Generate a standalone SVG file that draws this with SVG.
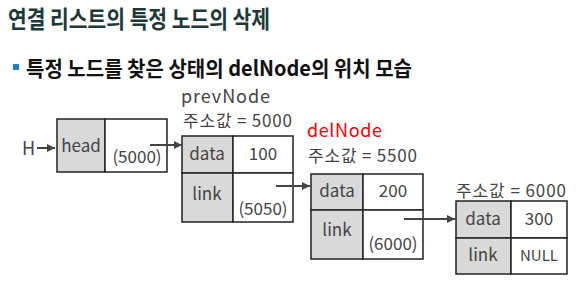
<svg xmlns="http://www.w3.org/2000/svg" width="578" height="284" viewBox="0 0 578 284">
<defs>
<style>
.t{font-family:"Noto Sans CJK KR","Noto Sans",sans-serif;}
.title{font-size:24px;font-weight:bold;fill:#1e3838;}
.sub{font-size:21px;font-weight:bold;fill:#111;}
.lbl{font-size:17px;fill:#444;}
.nm{font-size:18px;}
.red{fill:#ff0000;}
.g{fill:#d9d9d9;stroke:#222;stroke-width:1.5;}
.w{fill:#fff;stroke:#222;stroke-width:1.5;}
.c{stroke:#444;stroke-width:2;fill:none;marker-end:url(#ah);}
</style>
<marker id="ah" viewBox="0 0 10 10" refX="10" refY="5" markerWidth="4" markerHeight="4" orient="auto" markerUnits="strokeWidth">
<path d="M0,0 L10,5 L0,10 z" fill="#444"/>
</marker>
</defs>
<rect width="578" height="284" fill="#fff"/>
<text class="t title" x="8" y="28" textLength="262" lengthAdjust="spacingAndGlyphs">연결 리스트의 특정 노드의 삭제</text>
<rect x="13" y="64" width="6" height="6" fill="#1e7fd0"/>
<text class="t sub" x="26" y="76" textLength="386" lengthAdjust="spacingAndGlyphs">특정 노드를 찾은 상태의 delNode의 위치 모습</text>

<g id="H">
<text class="t lbl" x="22" y="155" style="font-size:18px">H</text>
</g>
<g id="head">
<rect class="g" x="57" y="119" width="48" height="53"/>
<rect class="w" x="105" y="119" width="62" height="53"/>
<text class="t lbl" x="81" y="152" text-anchor="middle">head</text>
<text class="t lbl" x="137" y="163" text-anchor="middle">(5000)</text>
</g>
<g id="prevNode">
<text class="t lbl nm" x="181" y="103" textLength="89">prevNode</text>
<text class="t lbl" x="183" y="127" textLength="109">주소값 = 5000</text>
<rect class="g" x="182" y="136" width="51" height="37"/>
<rect class="w" x="233" y="136" width="60" height="37"/>
<rect class="g" x="182" y="173" width="51" height="49"/>
<rect class="w" x="233" y="173" width="60" height="49"/>
<text class="t lbl" x="207" y="160" text-anchor="middle">data</text>
<text class="t lbl" x="263" y="160" text-anchor="middle">100</text>
<text class="t lbl" x="207" y="200" text-anchor="middle">link</text>
<text class="t lbl" x="263" y="215" text-anchor="middle">(5050)</text>
</g>
<g id="delNode">
<text class="t lbl nm red" x="307" y="137" textLength="75">delNode</text>
<text class="t lbl" x="308" y="162" textLength="109">주소값 = 5500</text>
<rect class="g" x="311" y="174" width="52" height="36"/>
<rect class="w" x="363" y="174" width="60" height="36"/>
<rect class="g" x="311" y="210" width="52" height="49"/>
<rect class="w" x="363" y="210" width="60" height="49"/>
<text class="t lbl" x="337" y="197" text-anchor="middle">data</text>
<text class="t lbl" x="393" y="197" text-anchor="middle">200</text>
<text class="t lbl" x="337" y="236" text-anchor="middle">link</text>
<text class="t lbl" x="393" y="250" text-anchor="middle">(6000)</text>
</g>
<g id="node6000">
<text class="t lbl" x="456" y="197" textLength="110">주소값 = 6000</text>
<rect class="g" x="456" y="201" width="55" height="37"/>
<rect class="w" x="511" y="201" width="56" height="37"/>
<rect class="g" x="456" y="238" width="55" height="36"/>
<rect class="w" x="511" y="238" width="56" height="36"/>
<text class="t lbl" x="483" y="225" text-anchor="middle">data</text>
<text class="t lbl" x="539" y="225" text-anchor="middle">300</text>
<text class="t lbl" x="483" y="261" text-anchor="middle">link</text>
<text class="t lbl" x="539" y="261" text-anchor="middle" style="font-size:15px">NULL</text>
</g>
<g id="connectors">
<line class="c" x1="37" y1="148" x2="55" y2="148"/>
<line class="c" x1="150" y1="145" x2="182" y2="145"/>
<line class="c" x1="276" y1="186" x2="310" y2="186"/>
<line class="c" x1="404" y1="219" x2="455" y2="219"/>
</g>
</svg>
